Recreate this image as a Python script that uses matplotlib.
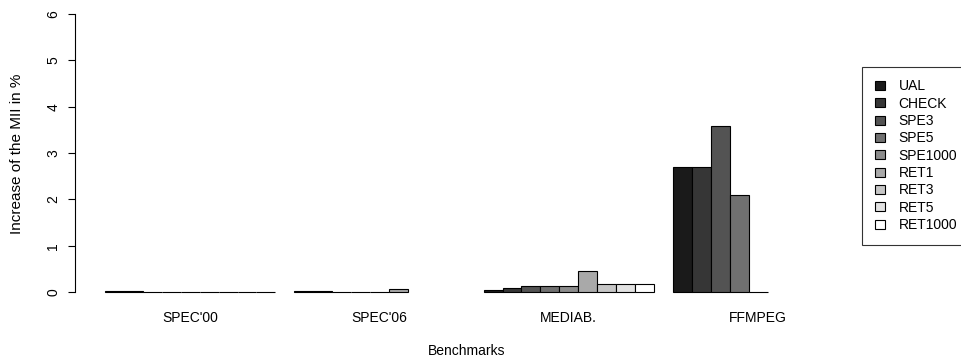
import numpy as np
import matplotlib.pyplot as plt
from matplotlib.transforms import blended_transform_factory

plt.rcParams['font.family'] = ['Liberation Sans', 'DejaVu Sans']

benchmarks = ["SPEC'00", "SPEC'06", "MEDIAB.", "FFMPEG"]
configs = ["UAL", "CHECK", "SPE3", "SPE5", "SPE1000", "RET1", "RET3", "RET5", "RET1000"]

# increase of the MII in % (nan = not measured)
spec00 = [0.012, 0.012, 0.0, 0.0, 0.0, 0.0, 0.004, 0.004, 0.004]
spec06 = [0.012, 0.012, 0.003, 0.003, 0.003, 0.07, np.nan, np.nan, np.nan]
mediab = [0.05, 0.09, 0.135, 0.135, 0.135, 0.46, 0.165, 0.165, 0.165]
ffmpeg = [2.69, 2.69, 3.59, 2.10, 0.0, np.nan, np.nan, np.nan, np.nan]
values = [spec00, spec06, mediab, ffmpeg]

greys = np.linspace(0.1, 1.0, len(configs))
colors = [str(g) for g in greys]

fig = plt.figure(figsize=(9.61, 3.62), dpi=100)
W, H = 961, 362
# axes in pixel terms: left 75, right 860, y=0 at 292, y=6 at 14.2
ppu = (292 - 14.2) / 6.0
ylo, yhi = -0.1, 6.1
bot_px = 292 + (0 - ylo) * ppu
top_px = 14.2 - (yhi - 6) * ppu
ax = fig.add_axes([75 / W, 1 - bot_px / H, (860 - 75) / W, (bot_px - top_px) / H])

bw = 18.93
xlo = 1 - 30 / bw
xhi = 1 + 755 / bw

for g, vals in enumerate(values):
    for i, v in enumerate(vals):
        if np.isnan(v):
            continue
        ax.bar(g * 10 + i + 1.5, v, width=1.0, color=colors[i],
               edgecolor='black', linewidth=0.8, clip_on=False)

ax.set_xlim(xlo, xhi)
ax.set_ylim(ylo, yhi)

for s in ['top', 'right', 'bottom']:
    ax.spines[s].set_visible(False)
ax.spines['left'].set_bounds(0, 6)
ax.spines['left'].set_linewidth(0.8)

ax.set_xticks([])
ax.set_yticks(range(7))
ax.set_yticklabels([str(t) for t in range(7)], rotation=90, va='center', fontsize=10)
ax.tick_params(axis='y', length=5, width=0.8, pad=5.5)

tr = blended_transform_factory(ax.transData, ax.transAxes)
for g, name in enumerate(benchmarks):
    ax.text(g * 10 + 5.5, -(318 - bot_px) / (bot_px - top_px), name,
            transform=tr, ha='center', va='center', fontsize=10)

ax.set_ylabel('Increase of the MII in %', fontsize=11)
ax.yaxis.set_label_coords((24 - 75) / 785, (bot_px - 154) / (bot_px - top_px))
fig.text(467 / W, 1 - 351 / H, 'Benchmarks', ha='center', va='center', fontsize=10)

handles = [plt.Rectangle((0, 0), 1, 1, facecolor=c, edgecolor='black', linewidth=0.8)
           for c in colors]
leg = fig.legend(handles, configs, loc='upper left', bbox_to_anchor=(862 / W, 1 - 67 / H),
                 fontsize=10, frameon=True, fancybox=False, borderpad=0.9,
                 labelspacing=0.24, handlelength=0.72, handleheight=0.62,
                 handletextpad=1.0, borderaxespad=0)
leg.get_frame().set_edgecolor('black')
leg.get_frame().set_linewidth(0.8)

fig.savefig('out.png', dpi=100)
